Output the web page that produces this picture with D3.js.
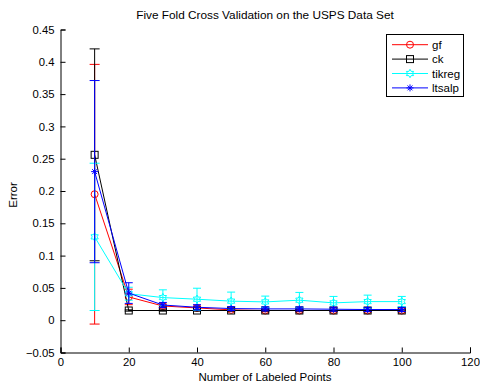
<!DOCTYPE html>
<html><head><meta charset="utf-8">
<script src="https://cdn.jsdelivr.net/npm/d3@7"></script>
<style>body{margin:0;background:#fff}svg{display:block}text{font-family:"Liberation Sans",Arial,sans-serif}</style>
</head><body>
<script>
const xs = [10,20,30,40,50,60,70,80,90,100];
const gfMean = [0.195,0.036,0.022,0.019,0.016,0.015,0.015,0.015,0.015,0.015];
const gfErr  = [0.201,0.012,0.003,0.003,0.002,0.002,0.002,0.002,0.002,0.002];
const ckMean = [0.256,0.015,0.015,0.015,0.015,0.015,0.015,0.015,0.015,0.015];
const ckErr  = [0.164,0.001,0.001,0.001,0.001,0.001,0.001,0.001,0.001,0.001];
const tikMean = [0.129,0.041,0.035,0.0325,0.0295,0.0283,0.031,0.0268,0.0288,0.0288];
const tikErr  = [0.114,0.010,0.012,0.017,0.014,0.009,0.012,0.010,0.010,0.008];
const ltsMean = [0.230,0.042,0.0235,0.020,0.018,0.0175,0.0175,0.017,0.0165,0.0165];
const ltsErr  = [0.141,0.016,0.004,0.004,0.003,0.003,0.003,0.003,0.003,0.003];
const seriesNames = ["gf","ck","tikreg","ltsalp"];
const xTicks = [0,20,40,60,80,100,120];
const yTicks = [-0.05,0,0.05,0.1,0.15,0.2,0.25,0.3,0.35,0.4,0.45];

const series = [
  {name:seriesNames[0], mean:gfMean, err:gfErr, color:"#ff0000", marker:"circle"},
  {name:seriesNames[1], mean:ckMean, err:ckErr, color:"#000000", marker:"square"},
  {name:seriesNames[2], mean:tikMean, err:tikErr, color:"#00ffff", marker:"hex"},
  {name:seriesNames[3], mean:ltsMean, err:ltsErr, color:"#0000ff", marker:"aster"}
];

const W=480,H=387;
const svg=d3.select("body").append("svg").attr("width",W).attr("height",H);
const x=d3.scaleLinear().domain([0,120]).range([60.5,470]);
const y=d3.scaleLinear().domain([-0.05,0.45]).range([352.5,29.5]);

const gx=svg.append("g").attr("transform","translate(0,352.5)")
  .call(d3.axisBottom(x).tickValues(xTicks).tickSize(-5).tickPadding(8).tickFormat(d=>d));
const gy=svg.append("g").attr("transform","translate(60.5,0)")
  .call(d3.axisLeft(y).tickValues(yTicks).tickSize(-5).tickPadding(6).tickFormat(d=>d===0?"0":(d<0?"\u22120.05":String(+d.toFixed(2)))));
[gx,gy].forEach(g=>{
  g.selectAll(".domain").attr("stroke","#000");
  g.selectAll(".tick line").attr("stroke","#000");
  g.selectAll("text").attr("fill","#000").style("font-size","11.3px");
});
gx.selectAll("text").attr("dy","0.5em");

function drawMarker(g,type,cx,cy,color){
  if(type==="circle"){
    g.append("circle").attr("cx",cx).attr("cy",cy).attr("r",3.5).attr("fill","none").attr("stroke",color).attr("stroke-width",1);
  } else if(type==="square"){
    g.append("rect").attr("x",cx-3.5).attr("y",cy-3.5).attr("width",7).attr("height",7).attr("fill","none").attr("stroke",color).attr("stroke-width",1);
  } else if(type==="hex"){
    const pts=[];
    for(let i=0;i<12;i++){const a=Math.PI/6*i - Math.PI/2; const r=i%2===0?4.2:2.4; pts.push([cx+r*Math.cos(a),cy+r*Math.sin(a)]);}
    g.append("polygon").attr("points",pts.map(p=>p.join(",")).join(" ")).attr("fill","none").attr("stroke",color).attr("stroke-width",1);
  } else if(type==="aster"){
    const r=3.5;
    g.append("path").attr("d",`M${cx-r},${cy}L${cx+r},${cy}M${cx},${cy-r}L${cx},${cy+r}M${cx-r*0.7},${cy-r*0.7}L${cx+r*0.7},${cy+r*0.7}M${cx-r*0.7},${cy+r*0.7}L${cx+r*0.7},${cy-r*0.7}`)
      .attr("stroke",color).attr("stroke-width",1).attr("fill","none");
  }
}

const plot=svg.append("g");
series.forEach(s=>{
  const g=plot.append("g");
  const pts=xs.map((xv,i)=>({x:xv,m:s.mean[i],e:s.err[i]}));
  pts.forEach(p=>{
    const cx=x(p.x), y1=y(p.m+p.e), y2=y(p.m-p.e);
    const cw = p.x===10?5:4;
    g.append("path").attr("d",`M${cx},${y1}L${cx},${y2}M${cx-cw},${y1}L${cx+cw},${y1}M${cx-cw},${y2}L${cx+cw},${y2}`)
      .attr("stroke",s.color).attr("stroke-width",1).attr("fill","none");
  });
  g.append("path").datum(pts).attr("d",d3.line().x(d=>x(d.x)).y(d=>y(d.m)))
    .attr("stroke",s.color).attr("stroke-width",1).attr("fill","none");
  pts.forEach(p=>drawMarker(g,s.marker,x(p.x),y(p.m),s.color));
});

svg.append("text").attr("x",265).attr("y",19).attr("text-anchor","middle").style("font-size","11.8px").text("Five Fold Cross Validation on the USPS Data Set");
svg.append("text").attr("x",265).attr("y",381).attr("text-anchor","middle").style("font-size","11.5px").text("Number of Labeled Points");
svg.append("text").attr("transform","translate(17,195) rotate(-90)").attr("text-anchor","middle").style("font-size","11.5px").text("Error");

const lg=svg.append("g");
lg.append("rect").attr("x",386.5).attr("y",34.5).attr("width",77).attr("height",62).attr("fill","#fff").attr("stroke","#000").attr("stroke-width",1);
series.forEach((s,i)=>{
  const yy=44.7+i*14.4;
  lg.append("line").attr("x1",392).attr("x2",428).attr("y1",yy).attr("y2",yy).attr("stroke",s.color).attr("stroke-width",1);
  drawMarker(lg,s.marker,410,yy,s.color);
  lg.append("text").attr("x",432).attr("y",yy+4).style("font-size","11.5px").text(s.name);
});
</script>
</body></html>
